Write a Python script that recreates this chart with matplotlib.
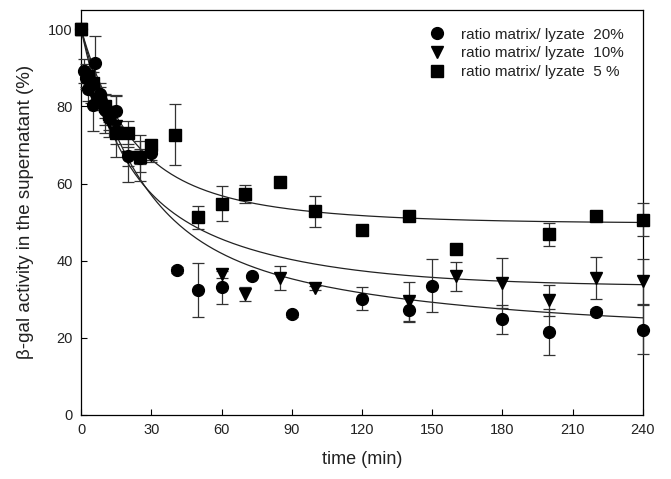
import numpy as np
import matplotlib.pyplot as plt

plt.rcParams['font.family'] = ['Liberation Sans', 'DejaVu Sans']

# ratio matrix/lyzate 20 % (circles)
t20 = [0, 1, 2, 3, 5, 6, 8, 10, 12, 15, 20, 25, 30, 41, 50, 60, 73, 90, 120, 140, 150, 180, 200, 220, 240]
y20 = [100, 89.2, 87.4, 84.4, 80.5, 91.3, 83.1, 79.2, 77.0, 78.8, 67.1, 66.7, 68.0,
       37.5, 32.5, 33.2, 35.9, 26.1, 30.1, 27.3, 33.5, 24.8, 21.5, 26.8, 22.1]
e20 = [1.5, 3, 3, 3, 7, 7, 3, 4, 3, 4, 2.5, 6, 2,
       0.8, 7, 4.5, 0.3, 0.6, 3, 3.3, 6.8, 3.8, 6, 0.6, 6.4]

# ratio matrix/lyzate 10 % (triangles)
t10 = [0, 2, 4, 6, 10, 12, 15, 20, 25, 30, 60, 70, 85, 100, 140, 160, 180, 200, 220, 240]
y10 = [100, 88, 85, 82, 78, 76, 75, 67, 67, 67.5,
       36.4, 31.4, 35.5, 32.9, 29.4, 35.9, 34.2, 29.7, 35.5, 34.6]
e10 = [1.5, 3, 4, 3, 5, 4, 8, 6.5, 4, 2,
       1, 1.8, 3, 0.5, 5, 3.8, 6.6, 4, 5.4, 5.8]

# ratio matrix/lyzate 5 % (squares)
t5 = [0, 3, 5, 8, 10, 12, 15, 20, 25, 30, 40, 50, 60, 70, 85, 100, 120, 140, 160, 200, 220, 240]
y5 = [100, 88, 86, 82, 80, 78, 73.2, 73.2, 67, 69.9, 72.7,
      51.2, 54.8, 57.3, 60.4, 52.8, 47.9, 51.7, 43.0, 46.8, 51.7, 50.6]
e5 = [1.5, 2, 3, 3, 3, 2, 3, 3, 2, 1.5, 8,
      3, 4.5, 2.4, 0.5, 4, 0.5, 0.5, 0.5, 3, 1, 4.3]

# fitted double exponential decay: y0, a, b, c, d  (y = y0 + a e^-bt + c e^-dt)
fit20 = [22.0, 50.6, 0.0427, 27.4, 0.009]
fit10 = [33.3, 31.8, 0.0715, 34.9, 0.018]
fit5 = [49.7, 31.4, 0.056, 18.9, 0.019]

labels = ['ratio matrix/ lyzate  20%', 'ratio matrix/ lyzate  10%', 'ratio matrix/ lyzate  5 %']


def decay(t, p):
    return p[0] + p[1] * np.exp(-p[2] * t) + p[3] * np.exp(-p[4] * t)


fig = plt.figure(figsize=(6.71, 4.79), dpi=100)
ax = fig.add_axes([0.121, 0.134, 0.837, 0.845])

tt = np.linspace(0, 240, 400)
for p in [fit20, fit10, fit5]:
    ax.plot(tt, decay(tt, p), color='#222222', lw=0.9, zorder=2)

series = [(t20, y20, e20, 'o', 8.5), (t10, y10, e10, 'v', 8.5), (t5, y5, e5, 's', 8)]
handles = []
for (t, y, e, m, ms), lab in zip(series, labels):
    ax.errorbar(t, y, yerr=e, fmt='none', ecolor='#333333', elinewidth=0.9,
                capsize=4, capthick=0.9, zorder=3, clip_on=False)
    h, = ax.plot(t, y, m, color='black', ms=ms, ls='none', label=lab, zorder=4, clip_on=False)
    handles.append(h)

ax.set_xlim(0, 240)
ax.set_ylim(0, 105)
ax.set_xticks(range(0, 241, 30))
ax.set_yticks(range(0, 101, 20))
ax.tick_params(direction='in', length=4, width=0.8, labelsize=10.5, pad=6,
               labelcolor='#222222')
for s in ax.spines.values():
    s.set_linewidth(0.9)

ax.set_xlabel('time (min)', fontsize=13, labelpad=10, color='#222222')
ax.set_ylabel('β-gal activity in the supernatant (%)', fontsize=13.5, labelpad=10, color='#222222')

leg = ax.legend(handles=handles, loc='upper left', bbox_to_anchor=(0.603, 0.975), frameon=False,
                fontsize=11, handlelength=1.2, handletextpad=1.0, labelspacing=0.3,
                borderpad=0, numpoints=1)
for txt in leg.get_texts():
    txt.set_color('#222222')

fig.savefig('out.png', dpi=100)
